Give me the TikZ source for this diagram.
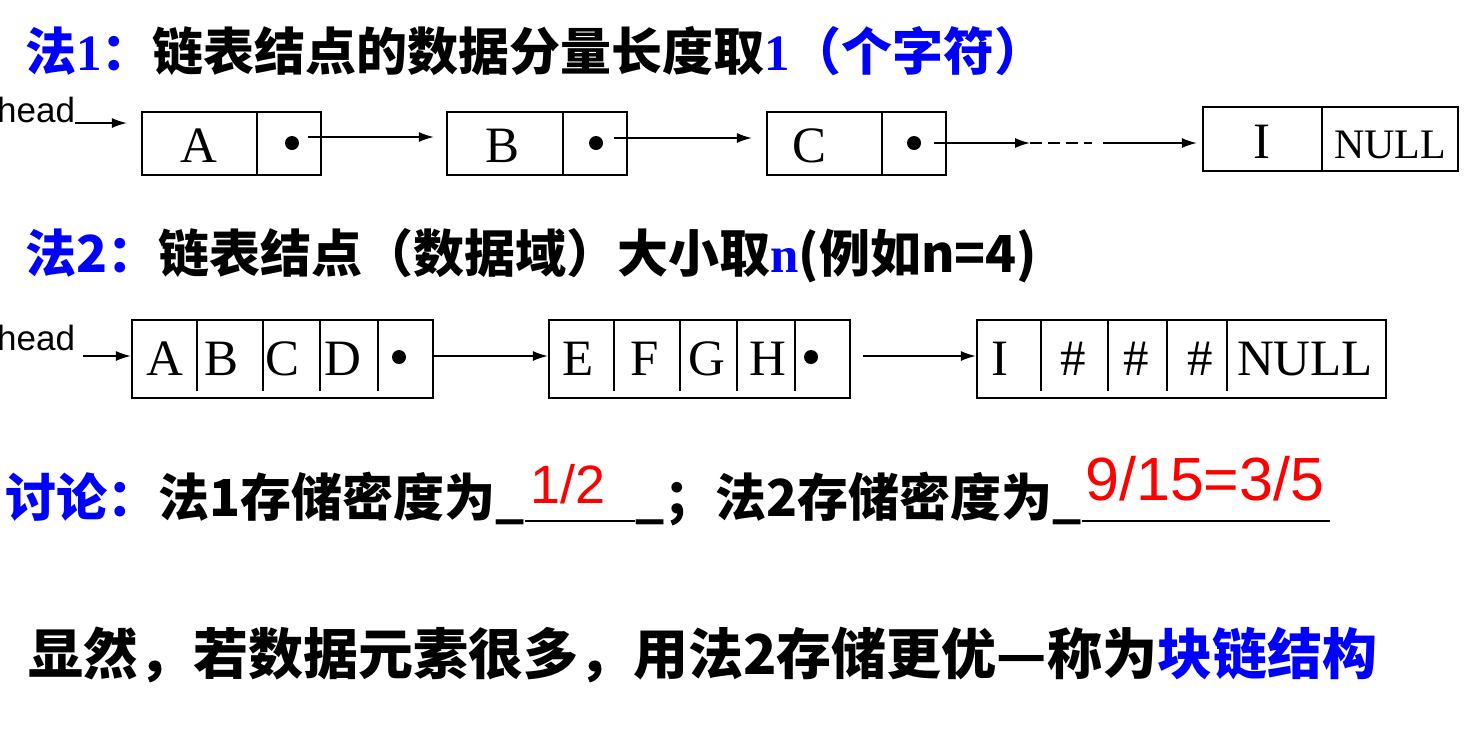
\documentclass[tikz,border=0pt]{standalone}
\usepackage{fontspec}
\setmainfont{Liberation Serif}
\newfontfamily\cjk{Noto Sans CJK SC}
\newfontfamily\arialfont{Liberation Sans}
\usetikzlibrary{positioning,calc,arrows.meta}

\definecolor{titleblue}{RGB}{0,0,255}
\definecolor{answerred}{RGB}{255,0,0}

\tikzset{
  cell/.style={draw,line width=2.2pt},
  link/.style={line width=1.6pt,-{Latex[length=15pt,width=10pt]}},
  letter/.style={anchor=base,inner sep=0pt,font=\fontsize{51}{51}\selectfont},
  headlbl/.style={anchor=base west,inner sep=0pt,font=\arialfont\fontsize{35}{35}\selectfont},
  textline/.style={anchor=base west,inner sep=0pt,font=\cjk\bfseries\fontsize{51}{51}\selectfont},
  answer/.style={anchor=base west,inner sep=0pt,text=answerred,font=\arialfont\fontsize{54}{54}\selectfont}
}

\newcommand\serifpart[1]{{\rmfamily #1}}

\begin{document}
\begin{tikzpicture}[x=1pt,y=-1pt]
  \useasboundingbox (0,0) rectangle (1465,729);

  % 法1
  \node[textline] (l1) at (25,70)
    {\textcolor{titleblue}{法\serifpart{1}：}链表结点的数据分量长度取\textcolor{titleblue}{\serifpart{1}（个字符）}};

  \node[cell,minimum width=179pt,minimum height=63pt] (n1a) at (231.5,143.5) {};
  \node[cell,minimum width=180pt,minimum height=63pt] (n1b) at (537,143.5) {};
  \node[cell,minimum width=179pt,minimum height=63pt] (n1c) at (856.5,143.5) {};
  \node[cell,minimum width=255pt,minimum height=64pt] (n1i) at (1330.5,139) {};
  \foreach \x/\t/\b in {257/112/175,563/112/175,882/112/175,1322/107/171}
    \draw[cell] (\x,\t) -- (\x,\b);

  \node[letter] (t1a) at (199,162) {A};
  \node[letter] (t1b) at (503,162) {B};
  \node[letter] (t1c) at (810,162) {C};
  \node[letter] (t1i) at (1262,158) {I};
  \node[letter,font=\fontsize{42}{42}\selectfont] (t1n) at (1390,158) {NULL};

  \foreach \p in {292,596,914} \fill (\p,143) circle (7pt);

  \node[headlbl] (h1) at (-3,122) {head};

  \path
  (308,137) coordinate (s1a)
  (614,138) coordinate (s1b)
  (934,143) coordinate (s1c)
  (1030,143) coordinate (g1)
  (1092,143) coordinate (g2)
  (1103,143) coordinate (g3);

  \draw[link,shorten >=14pt] (h1.base east) ++(0,1) coordinate (s1h) -- (s1h -| n1a.west);
  \draw[link,shorten >=12pt] (s1a) -- (s1a -| n1b.west);
  \draw[link,shorten >=14pt] (s1b) -- (s1b -| n1c.west);
  \draw[link] (s1c) -- (g1);
  \draw[line width=1.6pt,dash pattern=on 12pt off 6pt] (g1) -- (g2);
  \draw[link,shorten >=5pt] (g3) -- (g3 -| n1i.west);

  % 法2
  \node[textline] (l2) at (25,272)
    {\textcolor{titleblue}{法2：}链表结点（数据域）大小取\textcolor{titleblue}{\serifpart{n}}(例如n=4)};

  \node[cell,minimum width=301pt,minimum height=78pt] (n2a) at (282.5,359) {};
  \node[cell,minimum width=301pt,minimum height=78pt] (n2b) at (699.5,359) {};
  \node[cell,minimum width=409pt,minimum height=78pt] (n2c) at (1181.5,359) {};
  \foreach \x in {197,263,320,378,614,680,737,795,1041,1108,1167,1227}
    \draw[cell] (\x,320) -- (\x,391);

  \foreach \x/\t [count=\i] in {165/A,222/B,283/C,343/D,578/E,645/F,707/G,768/H,
      1000/I,1073/\#,1136/\#,1200/\#,1305/NULL}
    \node[letter] (t2-\i) at (\x,375) {\t};

  \foreach \p in {399,811} \fill (\p,357) circle (7pt);

  \node[headlbl] (h2) at (-3,350) {head};

  \path
  (83,356) coordinate (s2h)
  (433,356) coordinate (s2a)
  (863,356) coordinate (s2b);

  \draw[link] (s2h) -- (s2h -| n2a.west);
  \draw[link] (s2a) -- (s2a -| n2b.west);
  \draw[link] (s2b) -- (s2b -| n2c.west);

  % 讨论
  \node[textline] (d1) at (5,516) {\textcolor{titleblue}{讨论：}法1存储密度为\_};
  \node[textline] (d2) at (635,516) {\_；法2存储密度为\_};
  \path (635,521) coordinate (u1) (1330,521) coordinate (u2);
  \draw[line width=1.2pt] (d1.base east) ++(0,5) -- (u1);
  \draw[line width=1.2pt] (d2.base east) ++(0,5) -- (u2);

  \node[answer] (r1) at (530,503) {1/2};
  \node[answer,font=\arialfont\fontsize{61}{61}\selectfont] (r2) at (1085,500) {9/15=3/5};

  % 结论
  \node[textline,font=\cjk\bfseries\fontsize{55}{55}\selectfont] (l4) at (28,674)
    {显然，若数据元素很多，用法2存储更优—称为\textcolor{titleblue}{块链结构}};
\end{tikzpicture}
\end{document}
